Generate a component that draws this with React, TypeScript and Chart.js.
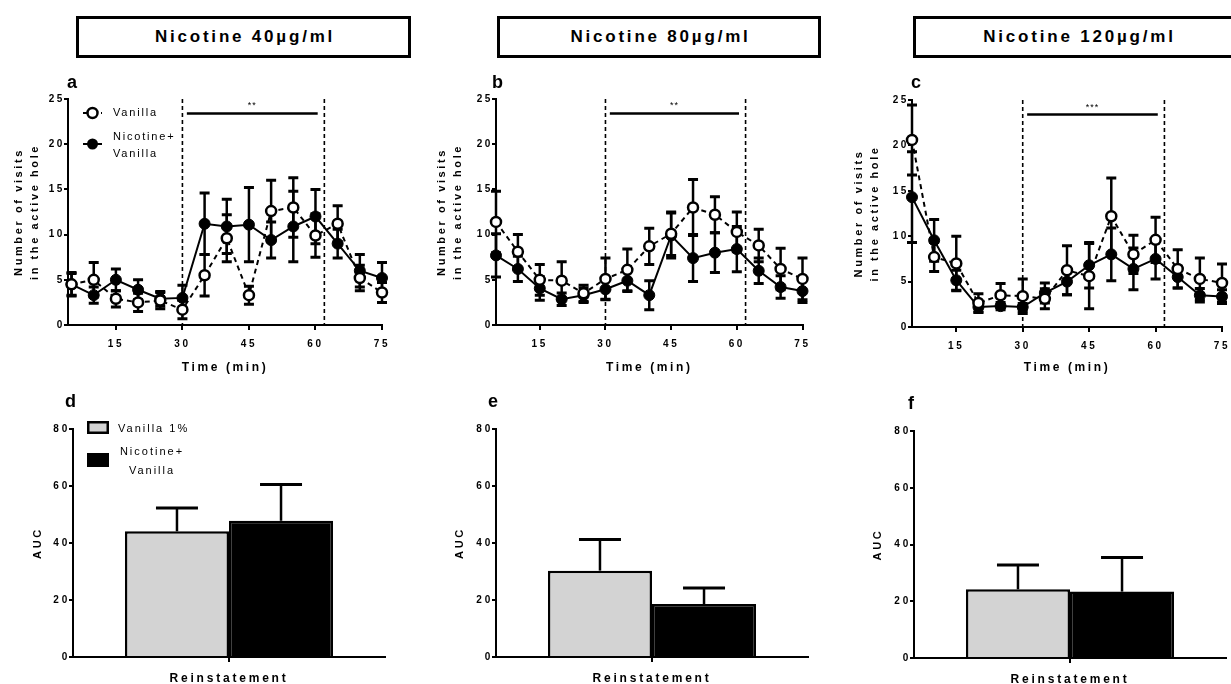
import React, { useEffect, useRef } from 'react';
import { Chart, registerables } from 'chart.js';

Chart.register(...registerables);

const FONT = '"Liberation Sans", Arial, Helvetica, sans-serif';
Chart.defaults.font.family = FONT;

// ---------- data ----------
const panelTitles = ['Nicotine 40\u00B5g/ml', 'Nicotine 80\u00B5g/ml', 'Nicotine 120\u00B5g/ml'];

const timePoints = [5, 10, 15, 20, 25, 30, 35, 40, 45, 50, 55, 60, 65, 70, 75];
const timeTicks = [15, 30, 45, 60, 75];
const visitTicks = [0, 5, 10, 15, 20, 25];
const phaseBounds = [30, 62];
const sigRange = [31, 60.5];
const sigLevel = 23.4;
const sigLabels = ['**', '**', '***'];

const vanilla40 = [4.5, 5.0, 2.9, 2.5, 2.7, 1.7, 5.5, 9.6, 3.3, 12.6, 13.0, 9.9, 11.2, 5.2, 3.6];
const vanilla40Err = [1.3, 1.9, 0.9, 1.0, 0.9, 1.0, 2.3, 2.6, 1.0, 3.4, 3.3, 2.4, 2.0, 1.4, 1.1];
const nicotine40 = [4.5, 3.3, 5.0, 3.9, 2.9, 3.0, 11.2, 10.9, 11.1, 9.4, 10.9, 12.0, 9.0, 6.0, 5.2];
const nicotine40Err = [1.2, 0.9, 1.2, 1.1, 0.8, 1.4, 3.4, 3.0, 4.1, 2.0, 3.9, 3.0, 1.6, 1.8, 1.7];

const vanilla80 = [11.4, 8.1, 5.0, 4.9, 3.5, 5.1, 6.1, 8.7, 10.1, 13.0, 12.2, 10.3, 8.8, 6.2, 5.1];
const vanilla80Err = [3.4, 1.9, 1.7, 2.1, 0.9, 2.3, 2.3, 2.0, 2.4, 3.1, 2.0, 2.2, 1.8, 2.3, 2.3];
const nicotine80 = [7.7, 6.2, 4.05, 2.85, 3.3, 3.95, 4.9, 3.3, 9.9, 7.4, 8.0, 8.4, 6.0, 4.2, 3.75];
const nicotine80Err = [2.4, 1.4, 1.3, 0.7, 0.8, 1.1, 1.2, 1.6, 2.5, 2.6, 2.2, 2.5, 1.4, 1.25, 1.25];

const vanilla120 = [20.6, 7.7, 7.0, 2.65, 3.5, 3.4, 3.1, 6.25, 5.6, 12.2, 8.0, 9.6, 6.4, 5.3, 4.85];
const vanilla120Err = [3.85, 1.6, 3.0, 1.0, 1.3, 1.9, 1.1, 2.7, 3.6, 4.2, 2.1, 2.5, 2.1, 2.3, 2.1];
const nicotine120 = [14.3, 9.55, 5.15, 2.2, 2.3, 2.2, 3.75, 5.0, 6.8, 8.0, 6.4, 7.5, 5.5, 3.5, 3.35];
const nicotine120Err = [5.0, 2.3, 1.1, 0.6, 0.4, 0.4, 1.1, 1.45, 2.5, 2.9, 2.3, 2.2, 1.2, 0.75, 0.75];

const lineLegendLabels = [['Vanilla'], ['Nicotine+', 'Vanilla']];
const barLegendLabels = [['Vanilla 1%'], ['Nicotine+', 'Vanilla']];

const aucCategories = ['Reinstatement'];
const aucTicks = [0, 20, 40, 60, 80];
const aucVanilla = [44.1, 30.3, 24.2];
const aucVanillaErr = [8.2, 10.9, 8.6];
const aucNicotine = [47.8, 18.6, 23.4];
const aucNicotineErr = [12.7, 5.6, 12.0];

// ---------- layout ----------
const titleBoxes = [
  { left: 76, width: 335 },
  { left: 497, width: 324 },
  { left: 913, width: 330 },
];

const linePanels = [
  { left: 0, top: 60, width: 400, height: 320, area: { l: 68, t: 39, r: 382, b: 265 }, xMin: 4.2, titlePad: 11, letter: 'a', ldx: -1, ldy: -11, legend: true,
    vanilla: vanilla40, vanillaErr: vanilla40Err, nicotine: nicotine40, nicotineErr: nicotine40Err, sig: sigLabels[0] },
  { left: 410, top: 60, width: 400, height: 320, area: { l: 86, t: 39, r: 395, b: 265 }, xMin: 5, titlePad: 24, letter: 'b', ldx: -4, ldy: -11, legend: false,
    vanilla: vanilla80, vanillaErr: vanilla80Err, nicotine: nicotine80, nicotineErr: nicotine80Err, sig: sigLabels[1] },
  { left: 820, top: 60, width: 411, height: 320, area: { l: 92, t: 40, r: 402, b: 267 }, xMin: 5, titlePad: 31, letter: 'c', ldx: -1, ldy: -12, legend: false,
    vanilla: vanilla120, vanillaErr: vanilla120Err, nicotine: nicotine120, nicotineErr: nicotine120Err, sig: sigLabels[2] },
];

const barPanels = [
  { idx: 0, left: 0, top: 390, width: 400, height: 294, area: { l: 73, t: 39, r: 385, b: 267 }, titlePad: 31.5, letter: 'd', ldx: -8, ldy: -22, legend: true },
  { idx: 1, left: 410, top: 390, width: 400, height: 294, area: { l: 86, t: 39, r: 398, b: 267 }, titlePad: 43.5, letter: 'e', ldx: -8, ldy: -22, legend: false },
  { idx: 2, left: 820, top: 390, width: 411, height: 294, area: { l: 94, t: 41, r: 406, b: 268 }, titlePad: 51.5, letter: 'f', ldx: -6, ldy: -22, legend: false },
];

// ---------- helpers ----------
function drawPanelLetter(ctx: any, area: any, p: any) {
  ctx.save();
  ctx.letterSpacing = '0px';
  ctx.fillStyle = '#000';
  ctx.font = `bold 18px ${FONT}`;
  ctx.textAlign = 'left';
  ctx.textBaseline = 'alphabetic';
  ctx.fillText(p.letter, area.left + p.ldx, area.top + p.ldy);
  ctx.restore();
}

function linePlugin(p: any) {
  return {
    id: 'lineDeco',
    beforeDraw(chart: any) {
      chart.ctx.letterSpacing = '2.6px';
    },
    beforeDatasetsDraw(chart: any) {
      const { ctx } = chart;
      const x = chart.scales.x;
      const y = chart.scales.y;
      ctx.save();
      ctx.strokeStyle = '#000';
      ctx.lineWidth = 1.6;
      ctx.setLineDash([4, 3]);
      phaseBounds.forEach((v) => {
        const px = x.getPixelForValue(v);
        ctx.beginPath();
        ctx.moveTo(px, y.getPixelForValue(25));
        ctx.lineTo(px, y.getPixelForValue(0));
        ctx.stroke();
      });
      ctx.setLineDash([]);
      const drawErr = (vals: number[], errs: number[]) => {
        timePoints.forEach((t, i) => {
          const px = x.getPixelForValue(t);
          const top = y.getPixelForValue(vals[i] + errs[i]);
          const bot = y.getPixelForValue(Math.max(0, vals[i] - errs[i]));
          ctx.lineWidth = 2.5;
          ctx.beginPath();
          ctx.moveTo(px, top);
          ctx.lineTo(px, bot);
          ctx.stroke();
          ctx.lineWidth = 3;
          ctx.beginPath();
          ctx.moveTo(px - 5, top);
          ctx.lineTo(px + 5, top);
          ctx.moveTo(px - 5, bot);
          ctx.lineTo(px + 5, bot);
          ctx.stroke();
        });
      };
      drawErr(p.nicotine, p.nicotineErr);
      drawErr(p.vanilla, p.vanillaErr);
      ctx.restore();
    },
    afterDraw(chart: any) {
      const { ctx, chartArea } = chart;
      const x = chart.scales.x;
      const y = chart.scales.y;
      ctx.save();
      ctx.strokeStyle = '#000';
      ctx.fillStyle = '#000';
      // significance bar
      const sy = y.getPixelForValue(sigLevel);
      const sx1 = x.getPixelForValue(sigRange[0]);
      const sx2 = x.getPixelForValue(sigRange[1]);
      ctx.lineWidth = 2.5;
      ctx.beginPath();
      ctx.moveTo(sx1, sy);
      ctx.lineTo(sx2, sy);
      ctx.stroke();
      ctx.letterSpacing = '1px';
      ctx.font = `9px ${FONT}`;
      ctx.textAlign = 'center';
      ctx.textBaseline = 'alphabetic';
      ctx.fillText(p.sig, (sx1 + sx2) / 2, sy - 5);
      // legend
      if (p.legend) {
        const L = chartArea.left;
        const T = chartArea.top;
        const ds = chart.data.datasets;
        ctx.font = `11px ${FONT}`;
        ctx.letterSpacing = '1.8px';
        ctx.textAlign = 'left';
        ctx.textBaseline = 'middle';
        // row 1 (open, dashed)
        let ry = T + 14;
        ctx.lineWidth = 2;
        ctx.setLineDash(ds[0].borderDash);
        ctx.beginPath();
        ctx.moveTo(L + 15, ry);
        ctx.lineTo(L + 34, ry);
        ctx.stroke();
        ctx.setLineDash([]);
        ctx.beginPath();
        ctx.arc(L + 24.5, ry, 5, 0, Math.PI * 2);
        ctx.fillStyle = '#fff';
        ctx.fill();
        ctx.lineWidth = 2.5;
        ctx.stroke();
        ctx.fillStyle = '#000';
        ctx.fillText(lineLegendLabels[0][0], L + 45, ry);
        // row 2 (filled, solid)
        ry = T + 45;
        ctx.lineWidth = 2;
        ctx.beginPath();
        ctx.moveTo(L + 15, ry);
        ctx.lineTo(L + 34, ry);
        ctx.stroke();
        ctx.beginPath();
        ctx.arc(L + 24.5, ry, 5.5, 0, Math.PI * 2);
        ctx.fill();
        ctx.fillText(lineLegendLabels[1][0], L + 45, T + 38);
        ctx.fillText(lineLegendLabels[1][1], L + 45, T + 55);
      }
      ctx.restore();
      drawPanelLetter(ctx, chartArea, p);
    },
  };
}

function buildLineConfig(p: any) {
  const pts = (arr: number[]) => timePoints.map((t, i) => ({ x: t, y: arr[i] }));
  const tickFont = { family: FONT, size: 10, weight: 'bold' };
  return {
    type: 'line',
    data: {
      datasets: [
        {
          label: 'Vanilla', data: pts(p.vanilla), borderColor: '#000', borderWidth: 2, borderDash: [5, 4],
          pointRadius: 5, pointHoverRadius: 5, pointBorderWidth: 2.5, pointBackgroundColor: '#fff', pointBorderColor: '#000',
          fill: false, tension: 0, clip: false,
        },
        {
          label: 'Nicotine+ Vanilla', data: pts(p.nicotine), borderColor: '#000', borderWidth: 2,
          pointRadius: 5.5, pointHoverRadius: 5.5, pointBorderWidth: 1, pointBackgroundColor: '#000', pointBorderColor: '#000',
          fill: false, tension: 0, clip: false,
        },
      ],
    },
    options: {
      responsive: false,
      animation: false,
      events: [],
      layout: { padding: { left: 0, top: p.area.t, right: p.width - p.area.r, bottom: 0 } },
      plugins: { legend: { display: false }, tooltip: { enabled: false }, title: { display: false } },
      scales: {
        x: {
          type: 'linear', min: p.xMin, max: 75,
          afterBuildTicks: (s: any) => { s.ticks = timeTicks.map((v) => ({ value: v })); },
          afterFit: (s: any) => { s.height = p.height - p.area.b; s.paddingLeft = 0; s.paddingRight = 0; },
          grid: { display: true, drawOnChartArea: false, drawTicks: true, tickLength: 5, color: '#000', lineWidth: 2 },
          border: { display: true, color: '#000', width: 2 },
          ticks: { color: '#000', font: tickFont, padding: 8, maxRotation: 0, autoSkip: false },
          title: { display: true, text: 'Time (min)', color: '#000', font: { family: FONT, size: 12, weight: 'bold' }, padding: { top: 0, bottom: 5 } },
        },
        y: {
          type: 'linear', min: 0, max: 25,
          afterBuildTicks: (s: any) => { s.ticks = visitTicks.map((v) => ({ value: v })); },
          afterFit: (s: any) => { s.width = p.area.l; s.paddingTop = 0; s.paddingBottom = 0; },
          grid: { display: true, drawOnChartArea: false, drawTicks: true, tickLength: 4, color: '#000', lineWidth: 2 },
          border: { display: true, color: '#000', width: 2 },
          ticks: { color: '#000', font: tickFont, padding: -1, autoSkip: false },
          title: {
            display: true, text: ['Number of visits', 'in the active hole'], color: '#000',
            font: { family: FONT, size: 11, weight: 'bold', lineHeight: '16px' }, padding: { top: p.titlePad, bottom: 0 },
          },
        },
      },
    },
    plugins: [linePlugin(p)],
  };
}

function barPlugin(p: any) {
  return {
    id: 'barDeco',
    beforeDraw(chart: any) {
      chart.ctx.letterSpacing = '2.8px';
    },
    afterDatasetsDraw(chart: any) {
      const { ctx } = chart;
      const y = chart.scales.y;
      const errs = [aucVanillaErr[p.idx], aucNicotineErr[p.idx]];
      const vals = [aucVanilla[p.idx], aucNicotine[p.idx]];
      ctx.save();
      ctx.strokeStyle = '#000';
      [0, 1].forEach((di) => {
        const bar = chart.getDatasetMeta(di).data[0];
        const bx = bar.x;
        const top = y.getPixelForValue(vals[di] + errs[di]);
        const base = y.getPixelForValue(vals[di]);
        ctx.lineWidth = 2.5;
        ctx.beginPath();
        ctx.moveTo(bx, base);
        ctx.lineTo(bx, top);
        ctx.stroke();
        ctx.lineWidth = 3;
        ctx.beginPath();
        ctx.moveTo(bx - 21, top);
        ctx.lineTo(bx + 21, top);
        ctx.stroke();
      });
      ctx.restore();
      // x-axis (z: 1) drawn after this hook: wider tracking for its label
      ctx.letterSpacing = '4px';
    },
    afterDraw(chart: any) {
      const { ctx, chartArea } = chart;
      if (p.legend) {
        const L = chartArea.left;
        const T = chartArea.top;
        ctx.save();
        ctx.letterSpacing = '2px';
        ctx.font = `11px ${FONT}`;
        ctx.textBaseline = 'middle';
        // light box
        ctx.fillStyle = '#d3d3d3';
        ctx.fillRect(L + 14, T - 8, 22, 13);
        ctx.strokeStyle = '#000';
        ctx.lineWidth = 2.5;
        ctx.strokeRect(L + 15.25, T - 6.75, 19.5, 10.5);
        ctx.fillStyle = '#000';
        ctx.textAlign = 'left';
        ctx.fillText(barLegendLabels[0][0], L + 45, T);
        // dark box
        ctx.fillRect(L + 14, T + 24, 22, 14);
        ctx.textAlign = 'center';
        ctx.fillText(barLegendLabels[1][0], L + 79, T + 23);
        ctx.fillText(barLegendLabels[1][1], L + 79, T + 42);
        ctx.restore();
      }
      drawPanelLetter(ctx, chartArea, p);
    },
  };
}

function buildBarConfig(p: any) {
  const tickFont = { family: FONT, size: 10, weight: 'bold' };
  return {
    type: 'bar',
    data: {
      labels: aucCategories,
      datasets: [
        {
          label: 'Vanilla 1%', data: [aucVanilla[p.idx]], backgroundColor: '#d3d3d3', borderColor: '#000',
          borderWidth: 2.5, borderSkipped: 'start', barPercentage: 1, categoryPercentage: 0.667,
        },
        {
          label: 'Nicotine+ Vanilla', data: [aucNicotine[p.idx]], backgroundColor: '#000', borderColor: '#000',
          borderWidth: 2.5, borderSkipped: 'start', barPercentage: 1, categoryPercentage: 0.667,
        },
      ],
    },
    options: {
      responsive: false,
      animation: false,
      events: [],
      layout: { padding: { left: 0, top: p.area.t, right: p.width - p.area.r, bottom: 0 } },
      plugins: { legend: { display: false }, tooltip: { enabled: false }, title: { display: false } },
      scales: {
        x: {
          type: 'category', offset: true, z: 1,
          afterFit: (s: any) => { s.height = p.height - p.area.b; s.paddingLeft = 0; s.paddingRight = 0; },
          grid: { display: true, offset: false, drawOnChartArea: false, drawTicks: true, tickLength: 5, color: '#000', lineWidth: 2 },
          border: { display: true, color: '#000', width: 2 },
          ticks: { color: '#000', font: { family: FONT, size: 12, weight: 'bold' }, padding: 9, maxRotation: 0 },
        },
        y: {
          type: 'linear', min: 0, max: 80,
          afterBuildTicks: (s: any) => { s.ticks = aucTicks.map((v) => ({ value: v })); },
          afterFit: (s: any) => { s.width = p.area.l; s.paddingTop = 0; s.paddingBottom = 0; },
          grid: { display: true, drawOnChartArea: false, drawTicks: true, tickLength: 4, color: '#000', lineWidth: 2 },
          border: { display: true, color: '#000', width: 2 },
          ticks: { color: '#000', font: tickFont, padding: -1, autoSkip: false },
          title: {
            display: true, text: 'AUC', color: '#000',
            font: { family: FONT, size: 11, weight: 'bold', lineHeight: '13px' }, padding: { top: p.titlePad, bottom: 0 },
          },
        },
      },
    },
    plugins: [barPlugin(p)],
  };
}

function ChartBox({ panel, build }: any) {
  const ref = useRef<HTMLCanvasElement | null>(null);
  useEffect(() => {
    const chart = new Chart(ref.current as any, build(panel) as any);
    return () => chart.destroy();
  }, []);
  return (
    <div style={{ position: 'absolute', left: panel.left, top: panel.top, width: panel.width, height: panel.height }}>
      <canvas ref={ref} width={panel.width} height={panel.height} style={{ display: 'block', width: panel.width, height: panel.height }} />
    </div>
  );
}

export default function App() {
  return (
    <div style={{ position: 'absolute', left: 0, top: 0, width: 1231, height: 684, overflow: 'hidden', background: '#fff' }}>
      {titleBoxes.map((b, i) => (
        <div
          key={'t' + i}
          style={{
            position: 'absolute', left: b.left, top: 16, width: b.width, height: 42, boxSizing: 'border-box',
            border: '3px solid #000', display: 'flex', alignItems: 'center', justifyContent: 'center',
            fontFamily: FONT, fontWeight: 'bold', fontSize: 17, letterSpacing: '2.8px', paddingLeft: 3, color: '#000',
          }}
        >
          {panelTitles[i]}
        </div>
      ))}
      {linePanels.map((p, i) => <ChartBox key={'l' + i} panel={p} build={buildLineConfig} />)}
      {barPanels.map((p, i) => <ChartBox key={'b' + i} panel={p} build={buildBarConfig} />)}
    </div>
  );
}
